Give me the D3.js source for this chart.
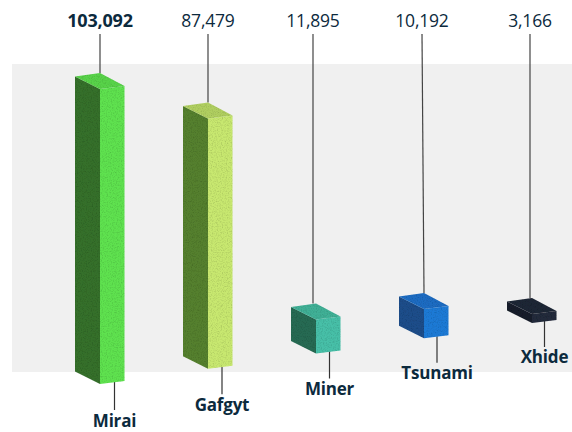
<!DOCTYPE html>
<html><head><meta charset="utf-8">
<script src="https://cdn.jsdelivr.net/npm/d3@7/dist/d3.min.js"></script>
<style>html,body{margin:0;padding:0;background:#fff}svg{display:block}
text{font-family:"Open Sans","Noto Sans",sans-serif;fill:#0c2a3d}</style></head>
<body><svg id="c" width="572" height="432"></svg>
<script>
const categories = ["Mirai","Gafgyt","Miner","Tsunami","Xhide"];
const values = [103092,87479,11895,10192,3166];
const valueLabels = ["103,092","87,479","11,895","10,192","3,166"];
const rightFace = ["#5ee250","#c8e870","#46c0a8","#1e7ad6","#20293a"];
const leftFace  = ["#34702c","#55802e","#256a52","#1b4d8a","#181f2c"];
const topFace   = ["#58d34a","#b0cf60","#3fb096","#1c6cc2","#1f2735"];

const W=572,H=432;
const svg=d3.select("#c");
const defs=svg.append("defs");
const f=defs.append("filter").attr("id","grain").attr("x","-5%").attr("y","-5%").attr("width","110%").attr("height","110%");
f.append("feGaussianBlur").attr("in","SourceGraphic").attr("stdDeviation",0.5).attr("result","soft");
f.append("feTurbulence").attr("type","fractalNoise").attr("baseFrequency",0.8).attr("numOctaves",2).attr("seed",4).attr("result","n");
f.append("feColorMatrix").attr("in","n").attr("type","matrix")
 .attr("values","0 0 0 0 0  0 0 0 0 0  0 0 0 0 0  2.2 0 0 0 -0.95").attr("result","dark");
f.append("feComposite").attr("in","dark").attr("in2","soft").attr("operator","in").attr("result","speck");
f.append("feComponentTransfer").attr("in","speck").attr("result","speck2").append("feFuncA").attr("type","linear").attr("slope",0.3);
const m=f.append("feMerge");m.append("feMergeNode").attr("in","soft");m.append("feMergeNode").attr("in","speck2");

// backdrop panel
svg.append("rect").attr("x",12).attr("y",64).attr("width",W-12).attr("height",308).attr("fill","#f0f0f0");

const x=d3.scalePoint().domain(categories).range([100,532]);
const lowerX=d3.scalePoint().domain(categories).range([114.5,544.5]);
const h=d3.scaleLinear().domain([0,d3.max(values)]).range([0,295]);
const base=d3.scaleLinear().domain([100,532]).range([384,323]);  // receding floor
const leaderEnd=d3.scalePoint().domain(categories).range([410,347]);
const labelBase=d3.scalePoint().domain(categories).range([427,363]);
const halfW=24.5, skewR=-3, skewL=-12.5;
const topOffset=[0,0,-3,-2,-2];      // leader attachment shift

const g=svg.selectAll("g.bar").data(categories).join("g").attr("class","bar");
const pts=a=>a.map(p=>p.join(",")).join(" ");

// upper leader + value
g.append("line").attr("x1",(d,i)=>x(d)+topOffset[i]).attr("x2",(d,i)=>x(d)+(i===3?0:topOffset[i]))
 .attr("y1",34).attr("y2",(d,i)=>base(x(d))-h(values[i])-16)
 .attr("stroke","#444").attr("stroke-width",1.2);
g.append("text").attr("x",(d,i)=>x(d)+topOffset[i]).attr("y",27).attr("text-anchor","middle")
 .attr("font-size",(d,i)=>i===0?18:17.5).attr("font-weight",(d,i)=>i===0?700:400).attr("letter-spacing",-0.2)
 .text((d,i)=>valueLabels[i]);

// lower leader + name
g.append("line").attr("x1",d=>lowerX(d)).attr("x2",d=>lowerX(d))
 .attr("y1",d=>base(x(d))-2).attr("y2",d=>leaderEnd(d))
 .attr("stroke","#333").attr("stroke-width",1.2);
g.append("text").attr("x",d=>lowerX(d)).attr("y",d=>labelBase(d)).attr("text-anchor","middle")
 .attr("font-size",17).attr("font-weight",700).attr("letter-spacing",-0.2)
 .text(d=>d);

// prism faces
const prism=g.append("g").attr("filter","url(#grain)");
prism.append("polygon").attr("fill",(d,i)=>leftFace[i]).attr("points",(d,i)=>{
  const X=x(d),B=base(X),T=B-h(values[i]);
  return pts([[X,T],[X,B],[X-halfW-.5,B+skewL],[X-halfW-.5,T+skewL]]);});
prism.append("polygon").attr("fill",(d,i)=>rightFace[i]).attr("points",(d,i)=>{
  const X=x(d),B=base(X),T=B-h(values[i]);
  return pts([[X,T],[X,B],[X+halfW,B+skewR],[X+halfW,T+skewR]]);});
prism.append("polygon").attr("fill",(d,i)=>topFace[i]).attr("points",(d,i)=>{
  const X=x(d),B=base(X),T=B-h(values[i]);
  return pts([[X,T],[X+halfW,T+skewR],[X,T-16],[X-halfW-.5,T+skewL]]);});
</script></body></html>
